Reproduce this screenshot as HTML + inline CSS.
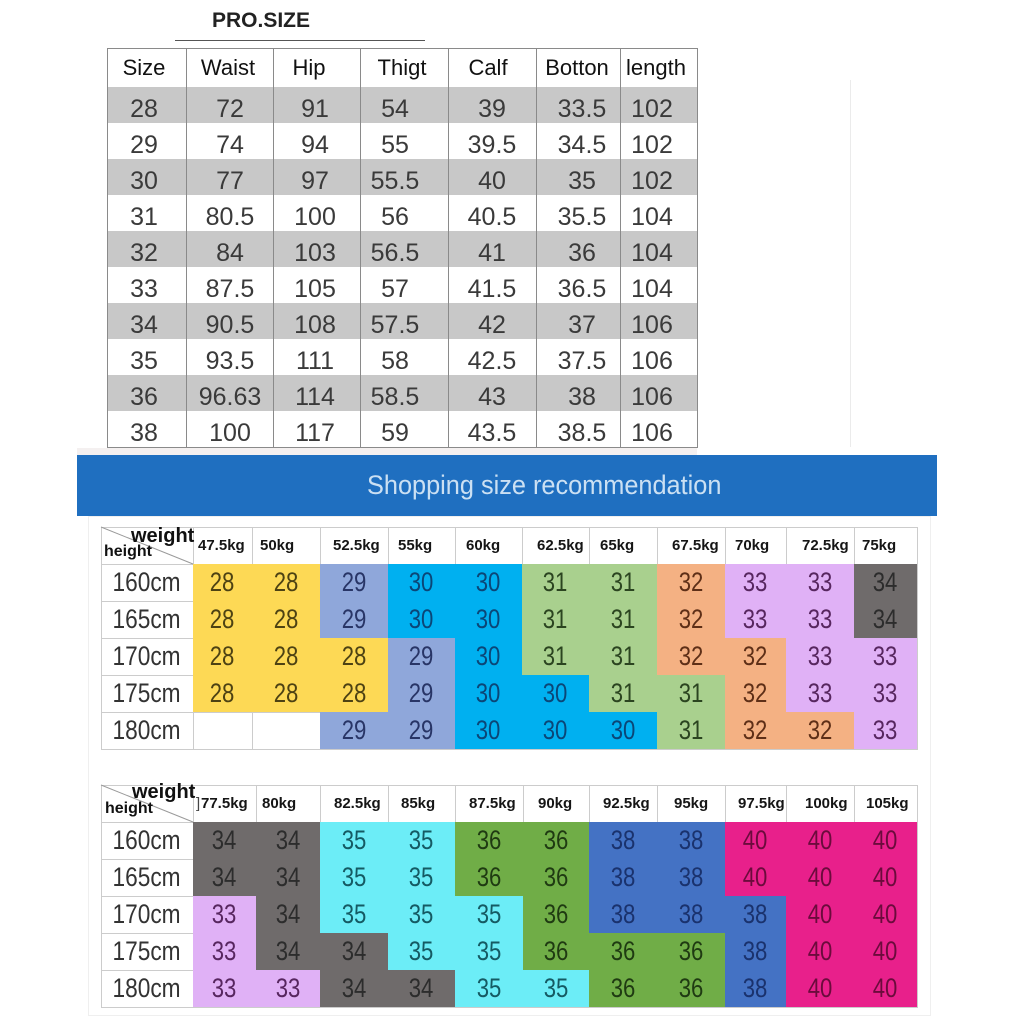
<!DOCTYPE html>
<html><head><meta charset="utf-8">
<style>
html,body{margin:0;padding:0}
body{width:1024px;height:1024px;position:relative;background:#fff;overflow:hidden;font-family:"Liberation Sans",sans-serif}
.a{position:absolute}
.t{position:absolute;width:100px;text-align:center;font-size:25px;color:#3a3a3a;height:36px;line-height:36px;white-space:nowrap}
.h{position:absolute;width:100px;text-align:center;font-size:22px;color:#111;top:48px;height:40px;line-height:40px;white-space:nowrap}
.k{position:absolute;height:37px;line-height:37px;text-align:center;font-size:27px;white-space:nowrap;color:#333}
.k i{display:inline-block;font-style:normal;transform:scaleX(.82)}
.lb{left:101px;width:92px;color:#333}
.lb i{transform:scaleX(.84)}
.hd{position:absolute;font-weight:bold;font-size:15px;color:#151515;height:37px;line-height:37px;white-space:nowrap}
.y{background:#fdd955;color:#4d4213}
.l{background:#8fa7da;color:#283566}
.c{background:#00b0f0;color:#0b4677}
.g{background:#a9d08e;color:#2b4420}
.o{background:#f4b183;color:#5e2f17}
.p{background:#e0b1f6;color:#57265f}
.d{background:#6f6b6b;color:#2c2c2c}
.q{background:#6cedf7;color:#155a63}
.G{background:#70ad47;color:#1f3a12}
.b{background:#4472c4;color:#1a326d}
.m{background:#e8208b;color:#6b0b3c}
.c1{left:193px;width:59px}.c2{left:252px;width:68px}.c3{left:320px;width:68px}.c4{left:388px;width:67px}
.c5{left:455px;width:67px}.c6{left:522px;width:67px}.c7{left:589px;width:68px}.c8{left:657px;width:68px}
.c9{left:725px;width:61px}.c10{left:786px;width:68px}.c11{left:854px;width:63px}
.e1{left:193px;width:63px}.e2{left:256px;width:64px}.e3{left:320px;width:68px}.e4{left:388px;width:67px}
.e5{left:455px;width:68px}.e6{left:523px;width:66px}.e7{left:589px;width:68px}.e8{left:657px;width:68px}
.e9{left:725px;width:61px}.e10{left:786px;width:68px}.e11{left:854px;width:63px}
.r1{top:564px}.r2{top:601px}.r3{top:638px}.r4{top:675px}.r5{top:712px}
.s1{top:822px}.s2{top:859px}.s3{top:896px}.s4{top:933px}.s5{top:970px}
.w{position:absolute;font-weight:bold;font-size:20px;line-height:20px;color:#111;white-space:nowrap}
.ht{position:absolute;font-weight:bold;font-size:16px;line-height:16px;color:#111;white-space:nowrap}
</style></head><body>

<svg class="a" style="left:0;top:0" width="1024" height="1024" shape-rendering="crispEdges">
<rect x="77" y="448" width="620" height="7" fill="#f4f0f0"/>
<line x1="850.5" y1="80" x2="850.5" y2="447" stroke="#ebebeb"/>
<rect x="88.5" y="516.5" width="842" height="499" fill="none" stroke="#efefef"/>
<line x1="175" y1="40.5" x2="425" y2="40.5" stroke="#555"/>
<g fill="#c8c8c8">
<rect x="107" y="87" width="590" height="36"/>
<rect x="107" y="159" width="590" height="36"/>
<rect x="107" y="231" width="590" height="36"/>
<rect x="107" y="303" width="590" height="36"/>
<rect x="107" y="375" width="590" height="36"/>
</g>
<g stroke="#8a8a8a">
<line x1="107.5" y1="48" x2="107.5" y2="448"/><line x1="186.5" y1="48" x2="186.5" y2="448"/>
<line x1="273.5" y1="48" x2="273.5" y2="448"/><line x1="360.5" y1="48" x2="360.5" y2="448"/>
<line x1="448.5" y1="48" x2="448.5" y2="448"/><line x1="536.5" y1="48" x2="536.5" y2="448"/>
<line x1="620.5" y1="48" x2="620.5" y2="448"/><line x1="697.5" y1="48" x2="697.5" y2="448"/>
<line x1="107" y1="48.5" x2="698" y2="48.5"/><line x1="107" y1="447.5" x2="698" y2="447.5"/>
</g>
<g stroke="#cccccc">
<line x1="101" y1="527.5" x2="918" y2="527.5"/><line x1="101" y1="564.5" x2="918" y2="564.5"/>
<line x1="101" y1="601.5" x2="918" y2="601.5"/><line x1="101" y1="638.5" x2="918" y2="638.5"/>
<line x1="101" y1="675.5" x2="918" y2="675.5"/><line x1="101" y1="712.5" x2="918" y2="712.5"/>
<line x1="101" y1="749.5" x2="918" y2="749.5"/>
<line x1="101.5" y1="527" x2="101.5" y2="750"/><line x1="193.5" y1="527" x2="193.5" y2="750"/>
<line x1="252.5" y1="527" x2="252.5" y2="750"/><line x1="320.5" y1="527" x2="320.5" y2="750"/>
<line x1="388.5" y1="527" x2="388.5" y2="750"/><line x1="455.5" y1="527" x2="455.5" y2="750"/>
<line x1="522.5" y1="527" x2="522.5" y2="750"/><line x1="589.5" y1="527" x2="589.5" y2="750"/>
<line x1="657.5" y1="527" x2="657.5" y2="750"/><line x1="725.5" y1="527" x2="725.5" y2="750"/>
<line x1="786.5" y1="527" x2="786.5" y2="750"/><line x1="854.5" y1="527" x2="854.5" y2="750"/>
<line x1="917.5" y1="527" x2="917.5" y2="750"/>

<line x1="101" y1="785.5" x2="918" y2="785.5"/><line x1="101" y1="822.5" x2="918" y2="822.5"/>
<line x1="101" y1="859.5" x2="918" y2="859.5"/><line x1="101" y1="896.5" x2="918" y2="896.5"/>
<line x1="101" y1="933.5" x2="918" y2="933.5"/><line x1="101" y1="970.5" x2="918" y2="970.5"/>
<line x1="101" y1="1007.5" x2="918" y2="1007.5"/>
<line x1="101.5" y1="785" x2="101.5" y2="1008"/><line x1="193.5" y1="785" x2="193.5" y2="1008"/>
<line x1="256.5" y1="785" x2="256.5" y2="1008"/><line x1="320.5" y1="785" x2="320.5" y2="1008"/>
<line x1="388.5" y1="785" x2="388.5" y2="1008"/><line x1="455.5" y1="785" x2="455.5" y2="1008"/>
<line x1="523.5" y1="785" x2="523.5" y2="1008"/><line x1="589.5" y1="785" x2="589.5" y2="1008"/>
<line x1="657.5" y1="785" x2="657.5" y2="1008"/><line x1="725.5" y1="785" x2="725.5" y2="1008"/>
<line x1="786.5" y1="785" x2="786.5" y2="1008"/><line x1="854.5" y1="785" x2="854.5" y2="1008"/>
<line x1="917.5" y1="785" x2="917.5" y2="1008"/>
</g>
<g stroke="#9a9a9a" shape-rendering="auto">
<line x1="101" y1="527" x2="193" y2="564"/>
<line x1="101" y1="785" x2="193" y2="822"/>
</g>
</svg>

<!-- Title -->
<div class="a" style="left:212px;top:10px;font-size:21px;line-height:21px;font-weight:bold;color:#222">PRO.SIZE</div>

<!-- Top table header -->
<div class="h" style="left:94px">Size</div>
<div class="h" style="left:178px">Waist</div>
<div class="h" style="left:259px">Hip</div>
<div class="h" style="left:352px">Thigt</div>
<div class="h" style="left:438px">Calf</div>
<div class="h" style="left:527px">Botton</div>
<div class="h" style="left:606px">length</div>

<!-- Top table rows -->
<div class="a" style="left:0;top:91px;width:1px;height:1px">
<div class="t" style="left:94px">28</div><div class="t" style="left:180px">72</div><div class="t" style="left:265px">91</div><div class="t" style="left:345px">54</div><div class="t" style="left:442px">39</div><div class="t" style="left:532px">33.5</div><div class="t" style="left:602px">102</div>
</div>
<div class="a" style="left:0;top:127px;width:1px;height:1px">
<div class="t" style="left:94px">29</div><div class="t" style="left:180px">74</div><div class="t" style="left:265px">94</div><div class="t" style="left:345px">55</div><div class="t" style="left:442px">39.5</div><div class="t" style="left:532px">34.5</div><div class="t" style="left:602px">102</div>
</div>
<div class="a" style="left:0;top:163px;width:1px;height:1px">
<div class="t" style="left:94px">30</div><div class="t" style="left:180px">77</div><div class="t" style="left:265px">97</div><div class="t" style="left:345px">55.5</div><div class="t" style="left:442px">40</div><div class="t" style="left:532px">35</div><div class="t" style="left:602px">102</div>
</div>
<div class="a" style="left:0;top:199px;width:1px;height:1px">
<div class="t" style="left:94px">31</div><div class="t" style="left:180px">80.5</div><div class="t" style="left:265px">100</div><div class="t" style="left:345px">56</div><div class="t" style="left:442px">40.5</div><div class="t" style="left:532px">35.5</div><div class="t" style="left:602px">104</div>
</div>
<div class="a" style="left:0;top:235px;width:1px;height:1px">
<div class="t" style="left:94px">32</div><div class="t" style="left:180px">84</div><div class="t" style="left:265px">103</div><div class="t" style="left:345px">56.5</div><div class="t" style="left:442px">41</div><div class="t" style="left:532px">36</div><div class="t" style="left:602px">104</div>
</div>
<div class="a" style="left:0;top:271px;width:1px;height:1px">
<div class="t" style="left:94px">33</div><div class="t" style="left:180px">87.5</div><div class="t" style="left:265px">105</div><div class="t" style="left:345px">57</div><div class="t" style="left:442px">41.5</div><div class="t" style="left:532px">36.5</div><div class="t" style="left:602px">104</div>
</div>
<div class="a" style="left:0;top:307px;width:1px;height:1px">
<div class="t" style="left:94px">34</div><div class="t" style="left:180px">90.5</div><div class="t" style="left:265px">108</div><div class="t" style="left:345px">57.5</div><div class="t" style="left:442px">42</div><div class="t" style="left:532px">37</div><div class="t" style="left:602px">106</div>
</div>
<div class="a" style="left:0;top:343px;width:1px;height:1px">
<div class="t" style="left:94px">35</div><div class="t" style="left:180px">93.5</div><div class="t" style="left:265px">111</div><div class="t" style="left:345px">58</div><div class="t" style="left:442px">42.5</div><div class="t" style="left:532px">37.5</div><div class="t" style="left:602px">106</div>
</div>
<div class="a" style="left:0;top:379px;width:1px;height:1px">
<div class="t" style="left:94px">36</div><div class="t" style="left:180px">96.63</div><div class="t" style="left:265px">114</div><div class="t" style="left:345px">58.5</div><div class="t" style="left:442px">43</div><div class="t" style="left:532px">38</div><div class="t" style="left:602px">106</div>
</div>
<div class="a" style="left:0;top:415px;width:1px;height:1px">
<div class="t" style="left:94px">38</div><div class="t" style="left:180px">100</div><div class="t" style="left:265px">117</div><div class="t" style="left:345px">59</div><div class="t" style="left:442px">43.5</div><div class="t" style="left:532px">38.5</div><div class="t" style="left:602px">106</div>
</div>

<!-- Banner -->
<div class="a" style="left:77px;top:455px;width:860px;height:61px;background:#1f6fc0"></div>
<div class="a" style="left:367px;top:455px;height:61px;line-height:61px;font-size:27px;color:#cbe0f3;white-space:nowrap;transform:scaleX(.937);transform-origin:left center">Shopping size recommendation</div>

<!-- Grid 1 header -->
<div class="w" style="left:131px;top:526px">weight</div>
<div class="ht" style="left:104px;top:544px">height</div>
<div class="hd" style="left:198px;top:527px">47.5kg</div>
<div class="hd" style="left:260px;top:527px">50kg</div>
<div class="hd" style="left:333px;top:527px">52.5kg</div>
<div class="hd" style="left:398px;top:527px">55kg</div>
<div class="hd" style="left:466px;top:527px">60kg</div>
<div class="hd" style="left:537px;top:527px">62.5kg</div>
<div class="hd" style="left:600px;top:527px">65kg</div>
<div class="hd" style="left:672px;top:527px">67.5kg</div>
<div class="hd" style="left:735px;top:527px">70kg</div>
<div class="hd" style="left:802px;top:527px">72.5kg</div>
<div class="hd" style="left:862px;top:527px">75kg</div>

<!-- Grid 1 body -->
<div class="k lb r1"><i>160cm</i></div>
<div class="k lb r2"><i>165cm</i></div>
<div class="k lb r3"><i>170cm</i></div>
<div class="k lb r4"><i>175cm</i></div>
<div class="k lb r5"><i>180cm</i></div>

<div class="k y c1 r1"><i>28</i></div><div class="k y c2 r1"><i>28</i></div><div class="k l c3 r1"><i>29</i></div><div class="k c c4 r1"><i>30</i></div><div class="k c c5 r1"><i>30</i></div><div class="k g c6 r1"><i>31</i></div><div class="k g c7 r1"><i>31</i></div><div class="k o c8 r1"><i>32</i></div><div class="k p c9 r1"><i>33</i></div><div class="k p c10 r1"><i>33</i></div><div class="k d c11 r1"><i>34</i></div>

<div class="k y c1 r2"><i>28</i></div><div class="k y c2 r2"><i>28</i></div><div class="k l c3 r2"><i>29</i></div><div class="k c c4 r2"><i>30</i></div><div class="k c c5 r2"><i>30</i></div><div class="k g c6 r2"><i>31</i></div><div class="k g c7 r2"><i>31</i></div><div class="k o c8 r2"><i>32</i></div><div class="k p c9 r2"><i>33</i></div><div class="k p c10 r2"><i>33</i></div><div class="k d c11 r2"><i>34</i></div>

<div class="k y c1 r3"><i>28</i></div><div class="k y c2 r3"><i>28</i></div><div class="k y c3 r3"><i>28</i></div><div class="k l c4 r3"><i>29</i></div><div class="k c c5 r3"><i>30</i></div><div class="k g c6 r3"><i>31</i></div><div class="k g c7 r3"><i>31</i></div><div class="k o c8 r3"><i>32</i></div><div class="k o c9 r3"><i>32</i></div><div class="k p c10 r3"><i>33</i></div><div class="k p c11 r3"><i>33</i></div>

<div class="k y c1 r4"><i>28</i></div><div class="k y c2 r4"><i>28</i></div><div class="k y c3 r4"><i>28</i></div><div class="k l c4 r4"><i>29</i></div><div class="k c c5 r4"><i>30</i></div><div class="k c c6 r4"><i>30</i></div><div class="k g c7 r4"><i>31</i></div><div class="k g c8 r4"><i>31</i></div><div class="k o c9 r4"><i>32</i></div><div class="k p c10 r4"><i>33</i></div><div class="k p c11 r4"><i>33</i></div>

<div class="k l c3 r5"><i>29</i></div><div class="k l c4 r5"><i>29</i></div><div class="k c c5 r5"><i>30</i></div><div class="k c c6 r5"><i>30</i></div><div class="k c c7 r5"><i>30</i></div><div class="k g c8 r5"><i>31</i></div><div class="k o c9 r5"><i>32</i></div><div class="k o c10 r5"><i>32</i></div><div class="k p c11 r5"><i>33</i></div>

<!-- Grid 2 header -->
<div class="w" style="left:132px;top:782px">weight</div>
<div class="ht" style="left:105px;top:801px">height</div>
<div class="a" style="left:196px;top:785px;height:37px;line-height:37px;font-size:15px;color:#444">]</div>
<div class="hd" style="left:201px;top:785px">77.5kg</div>
<div class="hd" style="left:262px;top:785px">80kg</div>
<div class="hd" style="left:334px;top:785px">82.5kg</div>
<div class="hd" style="left:401px;top:785px">85kg</div>
<div class="hd" style="left:469px;top:785px">87.5kg</div>
<div class="hd" style="left:538px;top:785px">90kg</div>
<div class="hd" style="left:603px;top:785px">92.5kg</div>
<div class="hd" style="left:674px;top:785px">95kg</div>
<div class="hd" style="left:738px;top:785px">97.5kg</div>
<div class="hd" style="left:805px;top:785px">100kg</div>
<div class="hd" style="left:866px;top:785px">105kg</div>

<!-- Grid 2 body -->
<div class="k lb s1"><i>160cm</i></div>
<div class="k lb s2"><i>165cm</i></div>
<div class="k lb s3"><i>170cm</i></div>
<div class="k lb s4"><i>175cm</i></div>
<div class="k lb s5"><i>180cm</i></div>

<div class="k d e1 s1"><i>34</i></div><div class="k d e2 s1"><i>34</i></div><div class="k q e3 s1"><i>35</i></div><div class="k q e4 s1"><i>35</i></div><div class="k G e5 s1"><i>36</i></div><div class="k G e6 s1"><i>36</i></div><div class="k b e7 s1"><i>38</i></div><div class="k b e8 s1"><i>38</i></div><div class="k m e9 s1"><i>40</i></div><div class="k m e10 s1"><i>40</i></div><div class="k m e11 s1"><i>40</i></div>

<div class="k d e1 s2"><i>34</i></div><div class="k d e2 s2"><i>34</i></div><div class="k q e3 s2"><i>35</i></div><div class="k q e4 s2"><i>35</i></div><div class="k G e5 s2"><i>36</i></div><div class="k G e6 s2"><i>36</i></div><div class="k b e7 s2"><i>38</i></div><div class="k b e8 s2"><i>38</i></div><div class="k m e9 s2"><i>40</i></div><div class="k m e10 s2"><i>40</i></div><div class="k m e11 s2"><i>40</i></div>

<div class="k p e1 s3"><i>33</i></div><div class="k d e2 s3"><i>34</i></div><div class="k q e3 s3"><i>35</i></div><div class="k q e4 s3"><i>35</i></div><div class="k q e5 s3"><i>35</i></div><div class="k G e6 s3"><i>36</i></div><div class="k b e7 s3"><i>38</i></div><div class="k b e8 s3"><i>38</i></div><div class="k b e9 s3"><i>38</i></div><div class="k m e10 s3"><i>40</i></div><div class="k m e11 s3"><i>40</i></div>

<div class="k p e1 s4"><i>33</i></div><div class="k d e2 s4"><i>34</i></div><div class="k d e3 s4"><i>34</i></div><div class="k q e4 s4"><i>35</i></div><div class="k q e5 s4"><i>35</i></div><div class="k G e6 s4"><i>36</i></div><div class="k G e7 s4"><i>36</i></div><div class="k G e8 s4"><i>36</i></div><div class="k b e9 s4"><i>38</i></div><div class="k m e10 s4"><i>40</i></div><div class="k m e11 s4"><i>40</i></div>

<div class="k p e1 s5"><i>33</i></div><div class="k p e2 s5"><i>33</i></div><div class="k d e3 s5"><i>34</i></div><div class="k d e4 s5"><i>34</i></div><div class="k q e5 s5"><i>35</i></div><div class="k q e6 s5"><i>35</i></div><div class="k G e7 s5"><i>36</i></div><div class="k G e8 s5"><i>36</i></div><div class="k b e9 s5"><i>38</i></div><div class="k m e10 s5"><i>40</i></div><div class="k m e11 s5"><i>40</i></div>

</body></html>
